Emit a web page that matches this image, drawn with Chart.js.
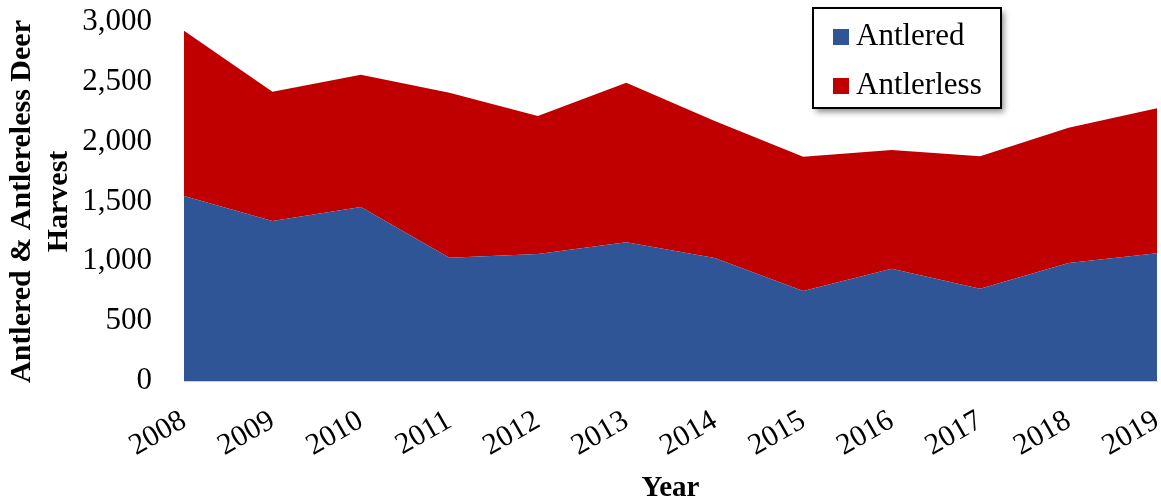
<!DOCTYPE html>
<html>
<head>
<meta charset="utf-8">
<script src="https://cdn.jsdelivr.net/npm/chart.js@4/dist/chart.umd.min.js"></script>
<style>
  html, body { margin: 0; padding: 0; background: #fff; }
</style>
</head>
<body>
<canvas id="harvest-chart" width="1161" height="504"></canvas>
<script>
// values
const years = ['2008', '2009', '2010', '2011', '2012', '2013', '2014', '2015', '2016', '2017', '2018', '2019'];
const antlered = [1546, 1337, 1454, 1030, 1061, 1159, 1028, 752, 938, 771, 986, 1067];
const antlerless = [1381, 1081, 1106, 1379, 1153, 1334, 1145, 1122, 992, 1107, 1131, 1212];

const serif = 'Liberation Serif';

// boxed legend with a drop shadow, drawn inside the plot area
const boxLegend = {
  id: 'boxLegend',
  afterDraw(chart) {
    const c = chart.ctx;
    const x = 813, y = 8, w = 188, h = 100;
    c.save();
    c.shadowColor = 'rgba(0,0,0,0.45)';
    c.shadowBlur = 6;
    c.shadowOffsetX = 3;
    c.shadowOffsetY = 4;
    c.fillStyle = '#fff';
    c.fillRect(x, y, w, h);
    c.shadowColor = 'transparent';
    c.lineWidth = 2;
    c.strokeStyle = '#000';
    c.strokeRect(x, y, w, h);
    c.font = '31px "' + serif + '"';
    c.textBaseline = 'middle';
    chart.data.datasets.forEach((ds, i) => {
      const rowY = y + 29 + i * 49;
      c.fillStyle = ds.backgroundColor;
      c.fillRect(x + 20, rowY - 8, 16, 16);
      c.fillStyle = '#000';
      c.fillText(ds.label, x + 43, rowY);
    });
    c.restore();
  }
};

new Chart(document.getElementById('harvest-chart').getContext('2d'), {
  type: 'line',
  data: {
    labels: years,
    datasets: [{
      label: 'Antlered',
      data: antlered,
      backgroundColor: '#2F5597',
      borderWidth: 0,
      pointRadius: 0,
      fill: 'origin',
      tension: 0
    }, {
      label: 'Antlerless',
      data: antlerless,
      backgroundColor: '#C00000',
      borderWidth: 0,
      pointRadius: 0,
      fill: '-1',
      tension: 0
    }]
  },
  options: {
    responsive: false,
    animation: false,
    devicePixelRatio: 1,
    layout: { padding: { top: 22, right: 4, left: 0, bottom: 0 } },
    plugins: {
      legend: { display: false },
      tooltip: { enabled: false }
    },
    scales: {
      x: {
        offset: false,
        grid: { display: false },
        border: { display: true, color: '#d0d0d0' },
        ticks: {
          color: '#000',
          font: { family: serif, size: 30 },
          minRotation: 30,
          maxRotation: 30,
          padding: 14
        },
        title: {
          display: true,
          text: 'Year',
          color: '#000',
          font: { family: serif, size: 29, weight: 'bold', lineHeight: 1.1 },
          padding: 0
        },
        afterFit(s) {
          s.height = 123;
          s.paddingLeft = 0;
          s.paddingRight = 0;
        }
      },
      y: {
        stacked: true,
        min: 0,
        max: 3000,
        grid: { display: false },
        border: { display: false },
        ticks: {
          stepSize: 500,
          color: '#000',
          font: { family: serif, size: 31 },
          padding: 24,
          callback: v => v.toLocaleString('en-US')
        },
        title: {
          display: true,
          text: ['Antlered & Antlereless Deer', 'Harvest'],
          color: '#000',
          font: { family: serif, size: 30, weight: 'bold', lineHeight: 1.22 },
          padding: { top: 4, bottom: 0 }
        },
        afterFit(s) {
          s.width = 184;
          s.paddingTop = 0;
          s.paddingBottom = 0;
        }
      }
    }
  },
  plugins: [boxLegend]
});
</script>
</body>
</html>
